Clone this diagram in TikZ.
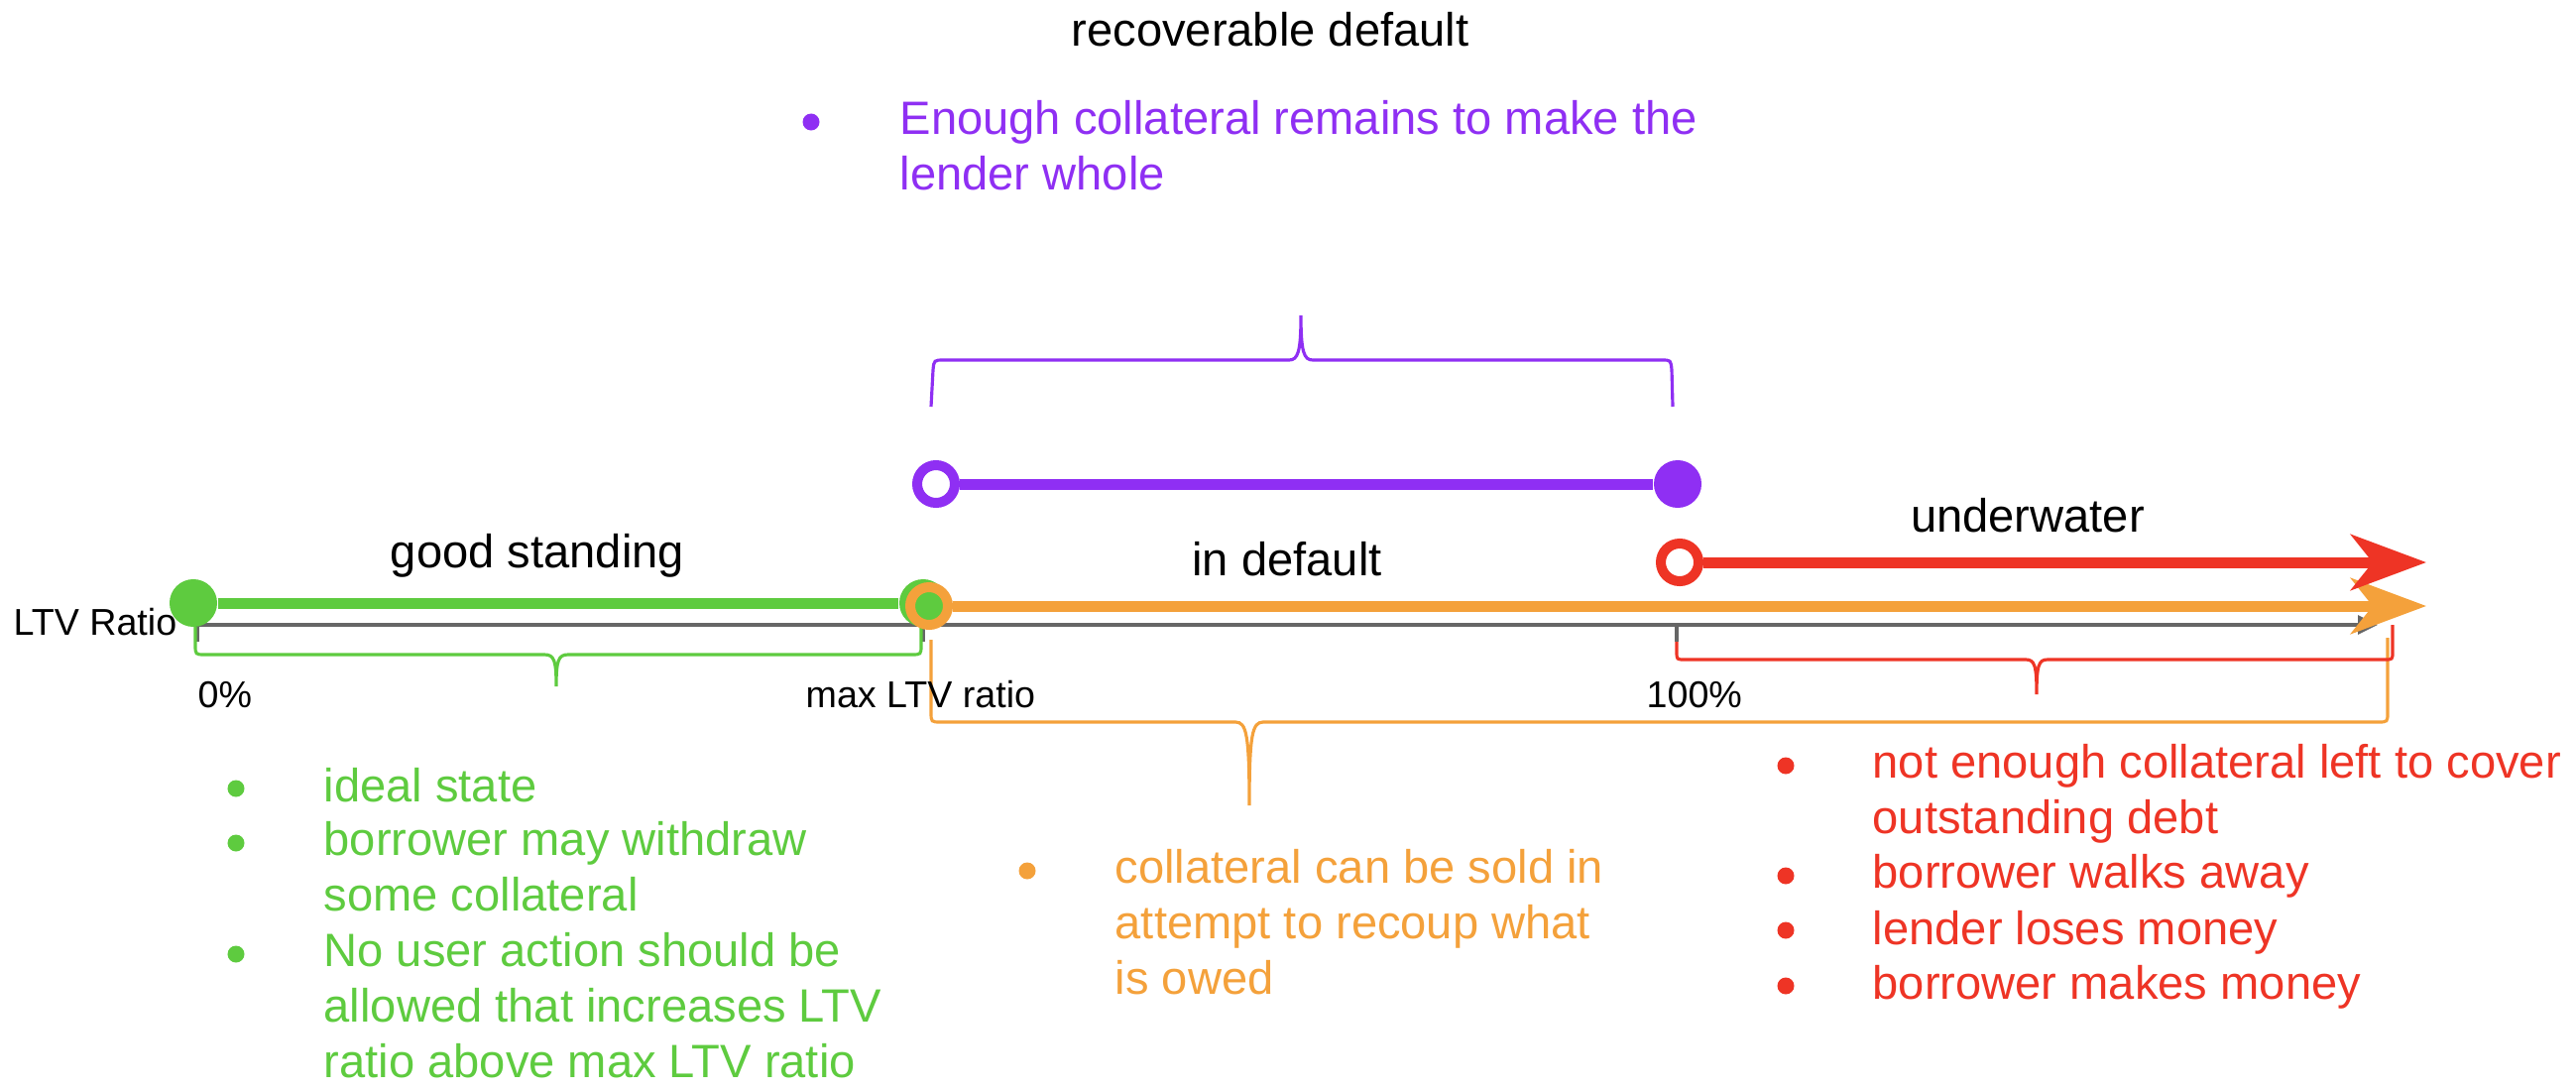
\documentclass[tikz,border=0pt]{standalone}
\usepackage{fontspec}
\setmainfont{Liberation Sans}
\usepackage{xcolor}
\usepackage{tikz}
\usetikzlibrary{arrows.meta,positioning}
\definecolor{ltvgreen}{HTML}{5ECB3F}
\definecolor{ltvorange}{HTML}{F4A13B}
\definecolor{ltvred}{HTML}{EE3425}
\definecolor{ltvpurple}{HTML}{8F2FF3}
\definecolor{ltvgray}{HTML}{666666}

\begin{document}
\begin{tikzpicture}[x=0.01cm,y=-0.01cm,>=Latex,
  lbl/.style={inner sep=0pt,anchor=base,font=\fontsize{13.4}{15.8}\selectfont},
  ticklbl/.style={inner sep=0pt,anchor=base west,font=\fontsize{10.7}{13}\selectfont},
  dotfill/.style={circle,inner sep=0pt,minimum size=0.48cm,fill=#1},
  ring/.style={circle,inner sep=0pt,minimum size=0.38cm,draw=#1,line width=0.1cm},
  bar/.style={line width=0.11cm,draw=#1},
  bul/.style={circle,inner sep=0pt,minimum size=0.17cm,fill=#1},
  note/.style={inner sep=0pt,anchor=base west,align=left,text=#1,font=\fontsize{13.4}{15.8}\selectfont},
  brace/.style={line width=0.9pt,draw=#1},
  bighead/.style={-{Stealth[length=0.76cm,width=0.56cm,inset=0.22cm]}}]
\useasboundingbox (0,0) rectangle (2598,1100);

\coordinate (ax0) at (196,630);
\coordinate (axend) at (2398,630);
\draw[ltvgray,line width=0.9pt,-{Triangle[length=0.2cm,width=0.19cm]}] (ax0) -- (axend);
\foreach \x in {199,931,1691} \draw[ltvgray,line width=0.9pt] (\x,630) -- (\x,647);

\draw[brace=ltvgreen] (197,632) -- (197,650) .. controls (197,660) .. (207,660) -- (549,660) .. controls (559,660) and (561,666) .. (561,692) .. controls (561,666) and (563,660) .. (573,660) -- (919,660) .. controls (929,660) .. (929,650) -- (929,632);
\draw[brace=ltvorange] (939,645) -- (939,718) .. controls (939,728) .. (949,728) -- (1246,728) .. controls (1257,728) and (1260,740) .. (1260,812) .. controls (1260,740) and (1263,728) .. (1274,728) -- (2398,728) .. controls (2408,728) .. (2408,718) -- (2408,643);
\draw[brace=ltvred] (1691,647) -- (1691,657) .. controls (1691,665) .. (1699,665) -- (2043,665) .. controls (2052,665) and (2054,671) .. (2054,700) .. controls (2054,671) and (2056,665) .. (2065,665) -- (2405,665) .. controls (2413,665) .. (2413,657) -- (2413,630);
\draw[brace=ltvpurple] (939,410) -- (941,373) .. controls (942,363) .. (952,363) -- (1300,363) .. controls (1309,363) and (1312,355) .. (1312,318) .. controls (1312,355) and (1315,363) .. (1324,363) -- (1676,363) .. controls (1685,363) .. (1686,373) -- (1687,410);

\node[dotfill=ltvgreen] (g0) at (195,608) {};
\node[dotfill=ltvgreen] (gmax) at (931,608) {};
\draw[bar=ltvgreen] (g0) -- (gmax);
\node[ring=ltvorange] (omax) at (937,611) {};
\coordinate (oend) at (2447,611);
\draw[bar=ltvorange,bighead,ltvorange] (omax) -- (oend);
\node[ring=ltvred] (r100) at (1694,567) {};
\coordinate (rend) at (2447,567);
\draw[bar=ltvred,bighead,ltvred] (r100) -- (rend);
\node[ring=ltvpurple] (pmax) at (944,488) {};
\node[dotfill=ltvpurple] (p100) at (1692,488) {};
\draw[bar=ltvpurple] (pmax) -- (p100);

\node[lbl] (recov) at (1281,46) {recoverable default};
\node[lbl] (good) at (542,572) {good standing};
\node[lbl] (indef) at (1298,580) {in default};
\node[lbl] (under) at (2045,536) {underwater};
\node[ticklbl] (ltv) at (13,640) {LTV Ratio};
\node[ticklbl] (zero) at (199,713) {0\%};
\node[ticklbl] (maxltv) at (812,713) {max LTV ratio};
\node[ticklbl] (hundred) at (1660,713) {100\%};

\node[bul=ltvpurple] (pb1) at (818,123) {};
\node[note=ltvpurple] (pt1) at (907,191) {Enough collateral remains to make the\\lender whole};

\node[bul=ltvgreen] (gb1) at (238,795) {};
\node[bul=ltvgreen] (gb2) at (238,850) {};
\node[bul=ltvgreen] (gb3) at (238,962) {};
\node[note=ltvgreen] (gt1) at (326,808) {ideal state};
\node[note=ltvgreen] (gt2) at (326,918) {borrower may withdraw\\some collateral};
\node[note=ltvgreen] (gt3) at (326,1086) {No user action should be\\allowed that increases LTV\\ratio above max LTV ratio};

\node[bul=ltvorange] (ob1) at (1036,878) {};
\node[note=ltvorange] (ot1) at (1124,1002) {collateral can be sold in\\attempt to recoup what\\is owed};

\node[bul=ltvred] (rb1) at (1801,772) {};
\node[bul=ltvred] (rb2) at (1801,883) {};
\node[bul=ltvred] (rb3) at (1801,938) {};
\node[bul=ltvred] (rb4) at (1801,994) {};
\node[note=ltvred] (rt1) at (1888,840) {not enough collateral left to cover\\outstanding debt};
\node[note=ltvred] (rt2) at (1888,895) {borrower walks away};
\node[note=ltvred] (rt3) at (1888,952) {lender loses money};
\node[note=ltvred] (rt4) at (1888,1007) {borrower makes money};
\end{tikzpicture}
\end{document}
